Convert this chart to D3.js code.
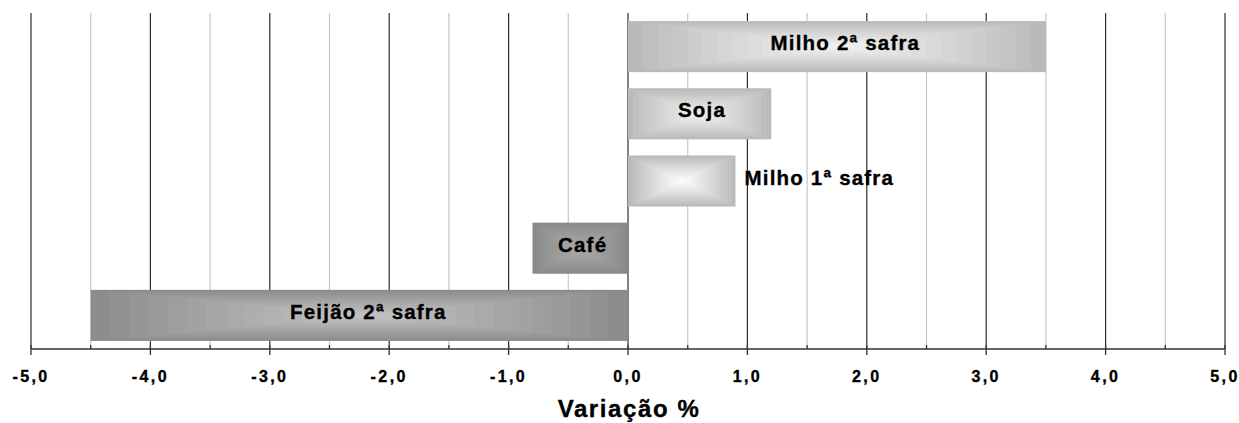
<!DOCTYPE html>
<html>
<head>
<meta charset="utf-8">
<script src="https://cdn.jsdelivr.net/npm/d3@7"></script>
<style>
  html, body { margin: 0; padding: 0; background: #fff; }
  svg { display: block; font-family: "Liberation Sans", Arial, sans-serif; }
  text { stroke: #000; stroke-width: 0.35px; }
</style>
</head>
<body>
<svg id="chart" width="1239" height="423"></svg>
<script>
// ---- data ----
const categories = ["Milho 2ª safra", "Soja", "Milho 1ª safra", "Café", "Feijão 2ª safra"];
const values = [3.5, 1.2, 0.9, -0.8, -4.5];
const tickValues = [-5, -4, -3, -2, -1, 0, 1, 2, 3, 4, 5];
const tickLabels = ["-5,0", "-4,0", "-3,0", "-2,0", "-1,0", "0,0", "1,0", "2,0", "3,0", "4,0", "5,0"];
const minorTicks = [-4.5, -3.5, -2.5, -1.5, -0.5, 0.5, 1.5, 2.5, 3.5, 4.5];
const axisTitle = "Variação %";

// ---- styles ----
const edgeColors = ["#bababa", "#bababa", "#bababa", "#8a8a8a", "#8c8c8c"];
const centerColors = ["#f4f4f4", "#f2f2f2", "#ffffff", "#ababab", "#c4c4c4"];

(function () {
const svg = d3.select("#chart");
const pLeft = 31, pRight = 1225, pTop = 13, pBottom = 349;

const x = d3.scaleLinear().domain([-5, 5]).range([pLeft, pRight]);
const y = d3.scaleBand().domain(categories).range([pTop, pBottom]).paddingInner(0.24).paddingOuter(0.12);

// gridlines
svg.append("g").selectAll("line").data(minorTicks).join("line")
  .attr("x1", d => x(d)).attr("x2", d => x(d))
  .attr("y1", pTop).attr("y2", pBottom)
  .attr("stroke", "#c8c8c8").attr("stroke-width", 1.2);
svg.append("g").selectAll("line").data(tickValues).join("line")
  .attr("x1", d => x(d)).attr("x2", d => x(d))
  .attr("y1", pTop).attr("y2", pBottom)
  .attr("stroke", "#2e2e2e").attr("stroke-width", 1.2);

// bars with rectangular "from center" gradient
const steps = 14;
const bars = svg.append("g");
categories.forEach((c, i) => {
  const v = values[i];
  const x0 = x(Math.min(0, v)), x1 = x(Math.max(0, v));
  const y0 = y(c), h = y.bandwidth();
  const w = x1 - x0;
  const interp = d3.interpolateRgb(edgeColors[i], centerColors[i]);
  const g = bars.append("g");
  for (let s = 0; s < steps; s++) {
    const t = s / steps;
    const dx = t * w / 2, dy = t * h / 2;
    g.append("rect")
      .attr("x", x0 + dx).attr("y", y0 + dy)
      .attr("width", Math.max(0, w - 2 * dx)).attr("height", Math.max(0, h - 2 * dy))
      .attr("fill", interp(Math.pow(t, 0.9)));
  }
});

// bar labels
categories.forEach((c, i) => {
  const v = values[i];
  const x0 = x(Math.min(0, v)), x1 = x(Math.max(0, v));
  const cy = y(c) + y.bandwidth() / 2;
  const t = svg.append("text")
    .attr("y", cy + 3.5)
    .attr("font-size", 20.5).attr("font-weight", "bold")
    .attr("fill", "#000")
    .text(c);
  const natural = t.node().getComputedTextLength();
  t.attr("letter-spacing", 1.2);
  const tw = t.node().getComputedTextLength();
  if (tw + 10 < (x1 - x0)) {
    t.attr("x", (x0 + x1) / 2 - natural / 2).attr("text-anchor", "start");
  } else {
    t.attr("x", v >= 0 ? x1 + 9 : x0 - 9).attr("text-anchor", v >= 0 ? "start" : "end");
  }
});

// axis
const axis = svg.append("g");
axis.append("line").attr("x1", pLeft).attr("x2", pRight).attr("y1", pBottom).attr("y2", pBottom)
  .attr("stroke", "#333").attr("stroke-width", 1.5);
axis.append("g").selectAll("line").data(tickValues).join("line")
  .attr("x1", d => x(d)).attr("x2", d => x(d))
  .attr("y1", pBottom - 4).attr("y2", pBottom + 6)
  .attr("stroke", "#333").attr("stroke-width", 1.3);
axis.append("g").selectAll("line").data(minorTicks).join("line")
  .attr("x1", d => x(d)).attr("x2", d => x(d))
  .attr("y1", pBottom - 4).attr("y2", pBottom)
  .attr("stroke", "#333").attr("stroke-width", 1.3);
axis.append("g").selectAll("text").data(tickValues).join("text")
  .attr("x", d => x(d)).attr("y", 382)
  .attr("text-anchor", "middle")
  .attr("font-size", 16).attr("font-weight", "bold")
  .attr("letter-spacing", 2.4)
  .text((d, i) => tickLabels[i]);

svg.append("text")
  .attr("x", x(0) + 1).attr("y", 417)
  .attr("text-anchor", "middle")
  .attr("font-size", 24).attr("font-weight", "bold")
  .attr("letter-spacing", 1.6)
  .text(axisTitle);
})();
</script>
</body>
</html>
